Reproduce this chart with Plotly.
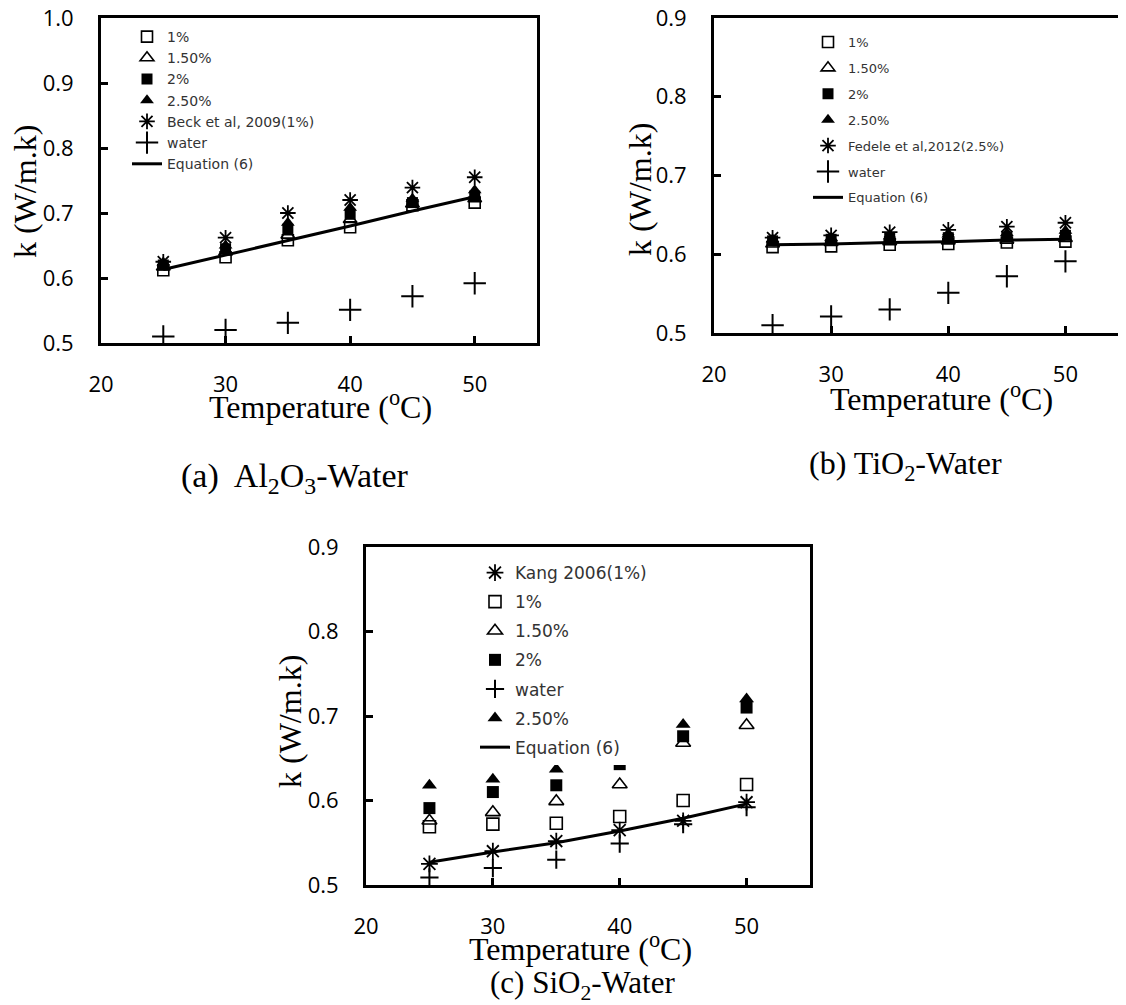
import plotly.graph_objects as go

W, H = 1126, 1005
OFF = 8  # page body margin of the html document

temps = [25, 30, 35, 40, 45, 50]

# Panel (a) Al2O3-Water
al_1 = [0.612, 0.632, 0.658, 0.678, 0.712, 0.716]
al_15 = [0.617, 0.640, 0.666, 0.690, 0.714, 0.722]
al_2 = [0.620, 0.645, 0.675, 0.698, 0.716, 0.726]
al_25 = [0.624, 0.650, 0.685, 0.708, 0.722, 0.735]
al_beck = [0.625, 0.662, 0.700, 0.720, 0.739, 0.755]
al_water = [0.510, 0.520, 0.531, 0.551, 0.572, 0.592]
al_eq = [0.613, 0.635, 0.657, 0.680, 0.703, 0.725]

# Panel (b) TiO2-Water
ti_1 = [0.609, 0.610, 0.612, 0.613, 0.615, 0.616]
ti_15 = [0.613, 0.615, 0.616, 0.617, 0.618, 0.620]
ti_2 = [0.617, 0.619, 0.620, 0.621, 0.622, 0.624]
ti_25 = [0.619, 0.621, 0.623, 0.625, 0.627, 0.630]
ti_fedele = [0.621, 0.624, 0.628, 0.631, 0.635, 0.640]
ti_water = [0.510, 0.521, 0.530, 0.551, 0.572, 0.591]
ti_eq = [0.612, 0.613, 0.615, 0.616, 0.618, 0.619]

# Panel (c) SiO2-Water
si_kang = [0.525, 0.540, 0.552, 0.565, 0.576, 0.598]
si_1 = [0.569, 0.572, 0.573, 0.581, 0.600, 0.619]
si_15 = [0.576, 0.586, 0.599, 0.619, 0.668, 0.689]
si_2 = [0.591, 0.610, 0.618, 0.643, 0.676, 0.710]
si_water = [0.509, 0.520, 0.530, 0.549, 0.572, 0.592]
si_25 = [0.618, 0.625, 0.637, 0.655, 0.690, 0.720]
si_eq = [0.527, 0.539, 0.550, 0.564, 0.579, 0.596]

x_ticks = [20, 30, 40, 50]
ya_ticks = [0.5, 0.6, 0.7, 0.8, 0.9, 1.0]
yb_ticks = [0.5, 0.6, 0.7, 0.8, 0.9]

SANS = "Open Sans"
SERIF = "Liberation Serif"
LEG = "DejaVu Sans"

styles = {
    "1%": dict(symbol="square-open", size=11, line=dict(width=1.6, color="black")),
    "1.50%": dict(symbol="triangle-up-open", size=12, line=dict(width=1.6, color="black")),
    "2%": dict(symbol="square", size=11, color="black", line=dict(width=0)),
    "2.50%": dict(symbol="triangle-up", size=12, color="black", line=dict(width=0)),
    "ref": dict(symbol="asterisk-open", size=13, line=dict(width=1.8, color="black")),
    "water": dict(symbol="cross-thin-open", size=16, line=dict(width=2, color="black")),
}

fig = go.Figure()


def add_points(name, vals, style, xa, ya, legend, group, size=None):
    m = dict(styles[style])
    m.setdefault("color", "black")
    if size is not None:
        m["size"] = size
    fig.add_trace(go.Scatter(x=temps, y=vals, mode="markers", name=name,
                             marker=m, xaxis=xa, yaxis=ya, legend=legend,
                             legendgroup=group))


def add_line(vals, xa, ya, legend, group):
    fig.add_trace(go.Scatter(x=temps, y=vals, mode="lines", name="Equation (6)",
                             line=dict(color="black", width=3), xaxis=xa, yaxis=ya,
                             legend=legend, legendgroup=group))


# panel a
add_points("1%", al_1, "1%", "x", "y", "legend", "a1")
add_points("1.50%", al_15, "1.50%", "x", "y", "legend", "a2")
add_points("2%", al_2, "2%", "x", "y", "legend", "a3")
add_points("2.50%", al_25, "2.50%", "x", "y", "legend", "a4")
add_points("Beck et al, 2009(1%)", al_beck, "ref", "x", "y", "legend", "a5")
add_points("water", al_water, "water", "x", "y", "legend", "a6")
add_line(al_eq, "x", "y", "legend", "a7")

# panel b
add_points("1%", ti_1, "1%", "x2", "y2", "legend2", "b1")
add_points("1.50%", ti_15, "1.50%", "x2", "y2", "legend2", "b2")
add_points("2%", ti_2, "2%", "x2", "y2", "legend2", "b3")
add_points("2.50%", ti_25, "2.50%", "x2", "y2", "legend2", "b4")
add_points("Fedele et al,2012(2.5%)", ti_fedele, "ref", "x2", "y2", "legend2", "b5")
add_points("water", ti_water, "water", "x2", "y2", "legend2", "b6")
add_line(ti_eq, "x2", "y2", "legend2", "b7")

# panel c
add_points("Kang 2006(1%)", si_kang, "ref", "x3", "y3", "legend3", "c1", 14)
add_points("1%", si_1, "1%", "x3", "y3", "legend3", "c2", 12)
add_points("1.50%", si_15, "1.50%", "x3", "y3", "legend3", "c3", 13)
add_points("2%", si_2, "2%", "x3", "y3", "legend3", "c4", 12)
add_points("water", si_water, "water", "x3", "y3", "legend3", "c5", 13)
add_points("2.50%", si_25, "2.50%", "x3", "y3", "legend3", "c6", 13)
add_line(si_eq, "x3", "y3", "legend3", "c7")


def px_x(p):
    return (p - OFF) / W


def px_y(p):
    return 1 - (p - OFF) / H


def xaxis(l, r, anchor):
    return dict(domain=[px_x(l), px_x(r)], range=[20, 55], tickvals=x_ticks,
                ticks="inside", ticklen=7, tickwidth=2.5, tickcolor="black",
                showline=True, linewidth=3, linecolor="black", mirror=True,
                showgrid=False, zeroline=False, anchor=anchor, automargin=False,
                tickfont=dict(family=SANS, size=22, color="black"),
                ticklabelstandoff=20, ticklabeloverflow="allow")


def yaxis(t, b, rng, tv, anchor):
    return dict(domain=[px_y(b), px_y(t)], range=rng, tickvals=tv, tickformat=".1f",
                ticks="inside", ticklen=7, tickwidth=2.5, tickcolor="black",
                showline=True, linewidth=3, linecolor="black", mirror=True,
                showgrid=False, zeroline=False, anchor=anchor, automargin=False,
                tickfont=dict(family=SANS, size=22, color="black"),
                ticklabelstandoff=20, ticklabeloverflow="allow")


def legend(x, y, size, gap, bg):
    return dict(x=px_x(x), y=px_y(y), xanchor="left", yanchor="top",
                font=dict(family=LEG, size=size, color="#333333"),
                bgcolor=bg, borderwidth=0, traceorder="grouped",
                tracegroupgap=gap, itemwidth=30)


annotations = []


def text(x, y, s, size, angle=0):
    annotations.append(dict(x=px_x(x), y=px_y(y), xref="paper", yref="paper",
                            text=s, showarrow=False, textangle=angle,
                            xanchor="center", yanchor="middle",
                            font=dict(family=SERIF, size=size, color="black")))


text(25, 192, "k (W/m.k)", 32, -90)
text(320, 405, "Temperature (<sup>o</sup>C)", 32)
text(295, 478, "(a)  Al<sub>2</sub>O<sub>3</sub>-Water", 34)

text(640, 190, "k (W/m.k)", 32, -90)
text(941, 397, "Temperature (<sup>o</sup>C)", 32)
text(905, 465, "(b) TiO<sub>2</sub>-Water", 32)

text(290, 722, "k (W/m.k)", 32, -90)
text(580, 947, "Temperature (<sup>o</sup>C)", 32)
text(582, 985, "(c) SiO<sub>2</sub>-Water", 31)

fig.update_layout(
    width=W, height=H, autosize=False,
    margin=dict(l=0, r=0, t=0, b=0, pad=0, autoexpand=False),
    paper_bgcolor="white", plot_bgcolor="white",
    showlegend=True,
    xaxis=xaxis(101, 537, "y"),
    yaxis=yaxis(18, 343, [0.5, 1.0], ya_ticks, "x"),
    xaxis2=xaxis(714, 1124, "y2"),
    yaxis2=yaxis(18, 333, [0.5, 0.9], yb_ticks, "x2"),
    xaxis3=xaxis(366, 810, "y3"),
    yaxis3=yaxis(547, 885, [0.5, 0.9], yb_ticks, "x3"),
    legend=legend(127, 21, 14, 0, "rgba(0,0,0,0)"),
    legend2=legend(808, 27, 13, 6, "rgba(0,0,0,0)"),
    legend3=legend(475, 555, 17, 4, "white"),
    annotations=annotations,
)

fig.write_html("out.html")
